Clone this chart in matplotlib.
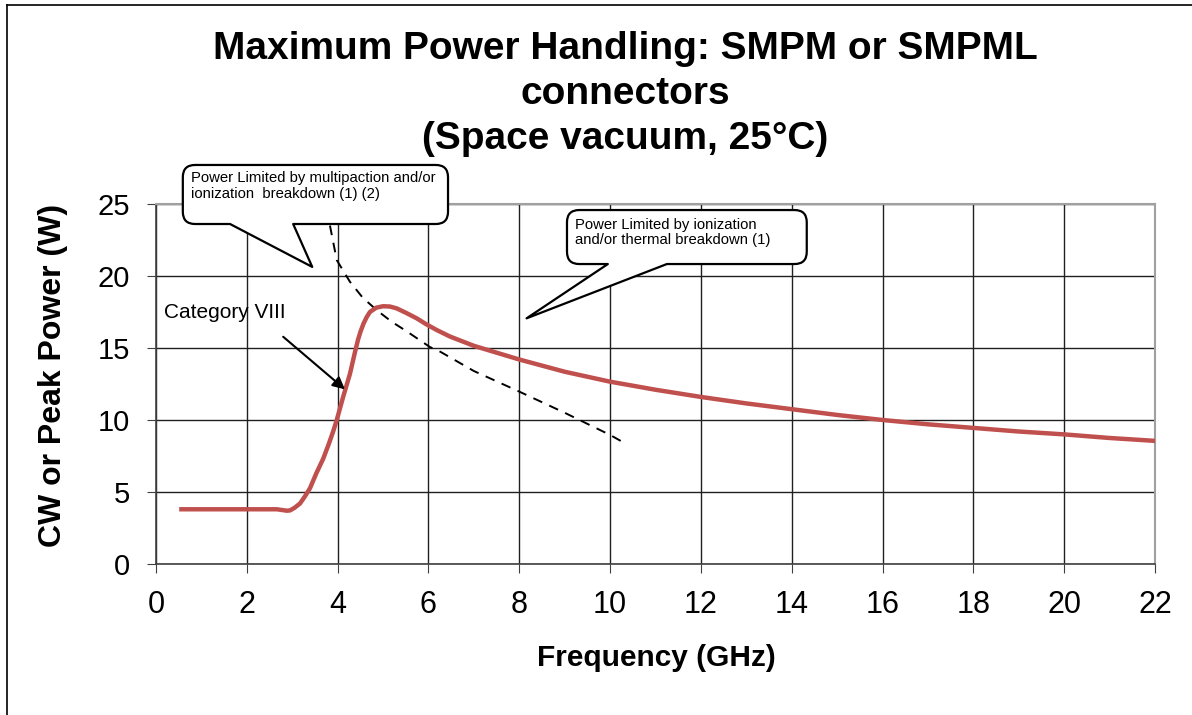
import numpy as np
import matplotlib
matplotlib.use('Agg')
import matplotlib.pyplot as plt
from matplotlib.path import Path
from matplotlib.patches import PathPatch
from matplotlib.lines import Line2D

plt.rcParams['font.family'] = ['Liberation Sans', 'DejaVu Sans']

# Category VIII power curve (GHz, W)
freq_cat = [0.51, 1.0, 2.0, 2.66, 2.88, 2.95, 3.05, 3.17, 3.28, 3.39, 3.53, 3.68, 3.8,
            3.9, 3.98, 4.12, 4.27, 4.38, 4.45, 4.51, 4.57, 4.64, 4.71, 4.85, 5.0, 5.15,
            5.3, 5.5, 5.74, 5.95, 6.18, 6.47, 7.0, 8.0, 9.0, 10.0, 11.0, 12.0,
            13.0, 14.0, 15.0, 16.0, 17.0, 18.0, 19.0, 20.0, 21.0, 22.0]
power_cat = [3.8, 3.8, 3.8, 3.8, 3.7, 3.72, 3.9, 4.2, 4.7, 5.26, 6.3, 7.3, 8.3,
             9.2, 10.0, 11.6, 13.2, 14.7, 15.6, 16.2, 16.7, 17.15, 17.5, 17.8, 17.9, 17.88,
             17.75, 17.45, 17.06, 16.65, 16.25, 15.8, 15.15, 14.2, 13.35, 12.66, 12.1, 11.6,
             11.15, 10.75, 10.35, 10.0, 9.7, 9.45, 9.2, 9.0, 8.75, 8.55]

# multipaction / ionization limit (dashed)
freq_lim = [3.83, 3.98, 4.27, 4.55, 4.87, 5.2, 5.5, 6.03, 6.26, 7.0, 8.0, 9.0, 10.0, 10.26]
power_lim = [23.5, 21.1, 19.6, 18.5, 17.6, 16.8, 16.2, 15.07, 14.74, 13.4, 11.97, 10.5, 8.96, 8.5]

x_ticks = list(range(0, 23, 2))
y_ticks = [0, 5, 10, 15, 20, 25]

title_lines = ['Maximum Power Handling: SMPM or SMPML', 'connectors', '(Space vacuum, 25°C)']

fig = plt.figure(figsize=(11.92, 7.15), dpi=100)
ax = fig.add_axes([0.1309, 0.2112, 0.8381, 0.5035])

ax.plot(freq_cat, power_cat, color='#C0504D', lw=3.2, solid_capstyle='butt',
        solid_joinstyle='round', zorder=4)
ax.plot(freq_lim, power_lim, color='black', lw=1.4, ls=(0, (5, 4)), zorder=3)

ax.set_xlim(0, 22)
ax.set_ylim(0, 25)
ax.set_xticks(x_ticks)
ax.set_yticks(y_ticks)
ax.tick_params(direction='out', length=6.5, color='#404040')
ax.tick_params(axis='x', labelsize=22, pad=12)
ax.tick_params(axis='y', labelsize=21, pad=12)
ax.grid(True, color='#202020', lw=1.0)
ax.set_axisbelow(True)
for s in ['left', 'bottom']:
    ax.spines[s].set_color('#404040')
    ax.spines[s].set_linewidth(1.2)
for s in ['top', 'right']:
    ax.spines[s].set_color('#a0a0a0')
    ax.spines[s].set_linewidth(1.5)

fig.text(656 / 1192, 1 - 658 / 715, 'Frequency (GHz)', fontsize=21.5, fontweight='bold',
         ha='center', va='center')
fig.text(53 / 1192, 1 - 375 / 715, 'CW or Peak Power (W)', fontsize=23, fontweight='bold',
         ha='center', va='center', rotation=90)

for i, line in enumerate(title_lines):
    fig.text(625 / 1192, 1 - (49 + 45 * i) / 715, line, ha='center', va='center',
             fontsize=28, fontweight='bold')


def callout(ax, x0, x1, y0, y1, base_a, base_b, tip, text, tx, ty):
    rx, ry = 0.27, 0.85
    verts = [(x0 + rx, y1), (x1 - rx, y1), (x1, y1), (x1, y1 - ry),
             (x1, y0 + ry), (x1, y0), (x1 - rx, y0),
             (base_b, y0), tip, (base_a, y0),
             (x0 + rx, y0), (x0, y0), (x0, y0 + ry),
             (x0, y1 - ry), (x0, y1), (x0 + rx, y1), (x0 + rx, y1)]
    codes = [Path.MOVETO, Path.LINETO, Path.CURVE3, Path.CURVE3,
             Path.LINETO, Path.CURVE3, Path.CURVE3,
             Path.LINETO, Path.LINETO, Path.LINETO,
             Path.LINETO, Path.CURVE3, Path.CURVE3,
             Path.LINETO, Path.CURVE3, Path.CURVE3, Path.CLOSEPOLY]
    patch = PathPatch(Path(verts, codes), facecolor='white', edgecolor='black',
                      lw=1.6, clip_on=False, zorder=6, joinstyle='round')
    ax.add_patch(patch)
    ax.text(tx, ty, text, fontsize=10.75, va='top', ha='left', zorder=7,
            linespacing=1.15, clip_on=False)


callout(ax, 0.59, 6.43, 23.61, 27.71, 1.63, 3.02, (3.44, 20.63),
        'Power Limited by multipaction and/or\nionization  breakdown (1) (2)', 0.77, 27.3)
callout(ax, 9.05, 14.33, 20.83, 24.58, 9.95, 11.25, (8.16, 17.06),
        'Power Limited by ionization\nand/or thermal breakdown (1)', 9.22, 24.05)

ax.text(0.18, 17.45, 'Category VIII', fontsize=15, va='center', ha='left', zorder=7)
ax.annotate('', xy=(4.16, 12.13), xytext=(2.80, 15.78),
            arrowprops=dict(arrowstyle='-|>', color='black', lw=1.5,
                            mutation_scale=18, shrinkA=0, shrinkB=0), zorder=7)

# outer frame
fig.add_artist(Line2D([0.006, 0.006], [0.0, 0.993], color='black', lw=1.2))
fig.add_artist(Line2D([0.006, 1.0], [0.993, 0.993], color='black', lw=1.2))

fig.savefig('out.png', dpi=100)
